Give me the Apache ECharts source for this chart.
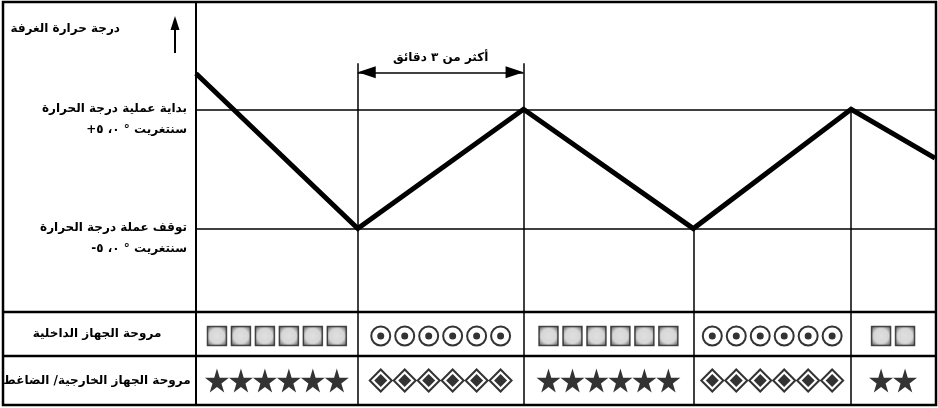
<!DOCTYPE html>
<html>
<head>
<meta charset="utf-8">
<script src="https://cdn.jsdelivr.net/npm/echarts@6/dist/echarts.min.js"></script>
<style>
html, body { margin: 0; padding: 0; background: #fff; }
#chart { width: 938px; height: 408px; }
</style>
</head>
<body>
<div id="chart"></div>
<script>
// room temperature curve (time in arbitrary units, temperature relative to set point)
var times = [0, 4.05, 8.2, 12.45, 16.4, 18.5];
var temps = [0.8, -0.5, 0.5, -0.5, 0.5, 0.09];

var titleText = 'درجة حرارة الغرفة';
var levelValues = [0.5, -0.5];
var levelNames = ['بداية عملية درجة الحرارة', 'توقف عملة درجة الحرارة'];
var levelUnits = ['+٥ ،٠ ° سنتغريت', '-٥ ،٠ ° سنتغريت'];

var bracketFrom = 4.05, bracketTo = 8.2, bracketLevel = 0.81, bracketTop = 0.886;
var bracketText = 'أكثر من ٣ دقائق';

var rowNames = ['مروحة الجهاز الداخلية', 'مروحة الجهاز الخارجية/ الضاغط'];
var indoorSymbols = ['square', 'circle', 'square', 'circle', 'square'];
var outdoorSymbols = ['star', 'diamond', 'star', 'diamond', 'star'];
var symbolCounts = [6, 6, 6, 6, 2];

var FONT = 'DejaVu Sans';
var STEP = 0.6; // spacing of the row symbols in time units

// unit line: sign and digits kept left to right as printed, one rich token per piece
function unitTokens(s) {
    return s.split(' ').map(function (w) {
        return w.match(/[\u0621-\u064A]+|./g).map(function (t) { return '{w|' + t + '}'; }).join('');
    }).join(' ');
}
function richStyle() {
    return { w: { fontFamily: FONT, fontWeight: 'bold', fontSize: 12, color: '#000', lineHeight: 21 } };
}
function labelFont() {
    return { fontFamily: FONT, fontWeight: 'bold', fontSize: 12, color: '#000' };
}

function rowPoints(kinds, kind) {
    var pts = [];
    for (var s = 0; s < kinds.length; s++) {
        if (kinds[s] !== kind) continue;
        var mid = (times[s] + times[s + 1]) / 2;
        var n = symbolCounts[s];
        for (var i = 0; i < n; i++) pts.push([mid + (i - (n - 1) / 2) * STEP, 0]);
    }
    return pts;
}

var curve = times.map(function (t, i) { return [t, temps[i]]; });

// vertical dividers in the temperature area
var dividers = [];
for (var i = 1; i < times.length - 1; i++) {
    var yTop = temps[i];
    if (times[i] === bracketFrom || times[i] === bracketTo) yTop = bracketTop;
    dividers.push({ coords: [[times[i], yTop], [times[i], -1.2]] });
}
function dividerMarks() {
    return {
        silent: true, symbol: 'none', label: { show: false },
        lineStyle: { color: '#000', width: 1.5, type: 'solid' },
        data: times.slice(1, -1).map(function (t) { return { xAxis: t }; })
    };
}

var starPath = 'path://M50,0 L61,35 L98,35 L68,57 L79,91 L50,70 L21,91 L32,57 L2,35 L39,35 Z';

var chart = echarts.init(document.getElementById('chart'));
var option = {
    animation: false,
    backgroundColor: '#fff',
    title: {
        text: titleText,
        right: 818,
        top: 23,
        padding: 0,
        textStyle: labelFont()
    },
    grid: [
        { left: 196, right: 3, top: 2, bottom: 96 },
        { left: 196, right: 3, top: 312, height: 44 },
        { left: 196, right: 3, top: 356, height: 49 }
    ],
    xAxis: [0, 1, 2].map(function (g) {
        return { type: 'value', gridIndex: g, min: 0, max: 18.5, show: false };
    }),
    yAxis: [
        {
            type: 'value', gridIndex: 0, min: -1.2, max: 1.4,
            axisLine: { show: false }, axisTick: { show: false }, splitLine: { show: false },
            axisLabel: {
                customValues: levelValues,
                formatter: function (v) {
                    var k = levelValues.indexOf(v);
                    if (k < 0) return '';
                    return '{w|' + levelNames[k] + '}\n' + unitTokens(levelUnits[k]);
                },
                align: 'right', margin: 9, verticalAlign: 'middle', padding: [20, 0, 0, 0],
                lineHeight: 21, fontFamily: FONT, fontWeight: 'bold', fontSize: 12, color: '#000',
                rich: richStyle()
            }
        },
        {
            type: 'category', gridIndex: 1, data: [rowNames[0]],
            axisLine: { show: false }, axisTick: { show: false },
            axisLabel: Object.assign({ margin: 99, align: 'center' }, labelFont())
        },
        {
            type: 'category', gridIndex: 2, data: [rowNames[1]],
            axisLine: { show: false }, axisTick: { show: false },
            axisLabel: Object.assign({ margin: 99, align: 'center' }, labelFont())
        }
    ],
    graphic: [
        { type: 'rect', shape: { x: 3, y: 2, width: 933, height: 403 }, style: { fill: 'none', stroke: '#000', lineWidth: 2.5 }, z: 10 },
        { type: 'line', shape: { x1: 196, y1: 2, x2: 196, y2: 405 }, style: { stroke: '#000', lineWidth: 2 }, z: 10 },
        { type: 'line', shape: { x1: 3, y1: 312, x2: 936, y2: 312 }, style: { stroke: '#000', lineWidth: 2.5 }, z: 10 },
        { type: 'line', shape: { x1: 3, y1: 356, x2: 936, y2: 356 }, style: { stroke: '#000', lineWidth: 2.5 }, z: 10 },
        { type: 'line', shape: { x1: 175, y1: 53, x2: 175, y2: 26 }, style: { stroke: '#000', lineWidth: 2 }, z: 10 },
        { type: 'polygon', shape: { points: [[170.5, 30], [179.5, 30], [175, 16]] }, style: { fill: '#000' }, z: 10 }
    ],
    series: [
        {
            type: 'lines', coordinateSystem: 'cartesian2d', xAxisIndex: 0, yAxisIndex: 0,
            silent: true, lineStyle: { color: '#000', width: 1.5, opacity: 1 },
            data: dividers
        },
        {
            type: 'line', xAxisIndex: 0, yAxisIndex: 0,
            data: curve, symbol: 'none',
            lineStyle: { color: '#000', width: 5, join: 'miter', cap: 'butt' },
            markLine: {
                silent: true, symbol: 'none',
                lineStyle: { color: '#000', width: 1.5, type: 'solid' },
                label: { show: false },
                data: [
                    { yAxis: levelValues[0] },
                    { yAxis: levelValues[1] },
                    [
                        { coord: [bracketFrom, bracketLevel], symbol: 'triangle', symbolSize: [12, 18], symbolOffset: [0, 9] },
                        {
                            coord: [bracketTo, bracketLevel], symbol: 'triangle', symbolSize: [12, 18], symbolOffset: [0, 9],
                            label: Object.assign({
                                show: true, position: 'insideMiddleTop', distance: 8,
                                formatter: bracketText
                            }, labelFont())
                        }
                    ]
                ]
            }
        },
        {
            type: 'scatter', xAxisIndex: 1, yAxisIndex: 1, silent: true,
            symbol: 'rect', symbolSize: 19, symbolOffset: [0, 2],
            itemStyle: {
                color: {
                    type: 'radial', x: 0.5, y: 0.5, r: 0.6,
                    colorStops: [
                        { offset: 0, color: '#d8d8d8' },
                        { offset: 0.6, color: '#cccccc' },
                        { offset: 1, color: '#4a4a4a' }
                    ]
                },
                borderColor: '#222', borderWidth: 1.5
            },
            data: rowPoints(indoorSymbols, 'square'),
            markLine: dividerMarks()
        },
        {
            type: 'scatter', xAxisIndex: 1, yAxisIndex: 1, silent: true,
            symbol: 'circle', symbolSize: 19, symbolOffset: [0, 2],
            itemStyle: { color: '#fff', borderColor: '#000', borderWidth: 2 },
            data: rowPoints(indoorSymbols, 'circle')
        },
        {
            type: 'scatter', xAxisIndex: 1, yAxisIndex: 1, silent: true,
            symbol: 'circle', symbolSize: 7, symbolOffset: [0, 2],
            itemStyle: { color: '#000' },
            data: rowPoints(indoorSymbols, 'circle')
        },
        {
            type: 'scatter', xAxisIndex: 2, yAxisIndex: 2, silent: true,
            symbol: starPath, symbolSize: 24,
            itemStyle: { color: '#000' },
            data: rowPoints(outdoorSymbols, 'star'),
            markLine: dividerMarks()
        },
        {
            type: 'scatter', xAxisIndex: 2, yAxisIndex: 2, silent: true,
            symbol: 'diamond', symbolSize: 22,
            itemStyle: { color: '#fff', borderColor: '#000', borderWidth: 2 },
            data: rowPoints(outdoorSymbols, 'diamond')
        },
        {
            type: 'scatter', xAxisIndex: 2, yAxisIndex: 2, silent: true,
            symbol: 'diamond', symbolSize: 13,
            itemStyle: { color: '#000' },
            data: rowPoints(outdoorSymbols, 'diamond')
        }
    ]
};
chart.setOption(option);
</script>
</body>
</html>
